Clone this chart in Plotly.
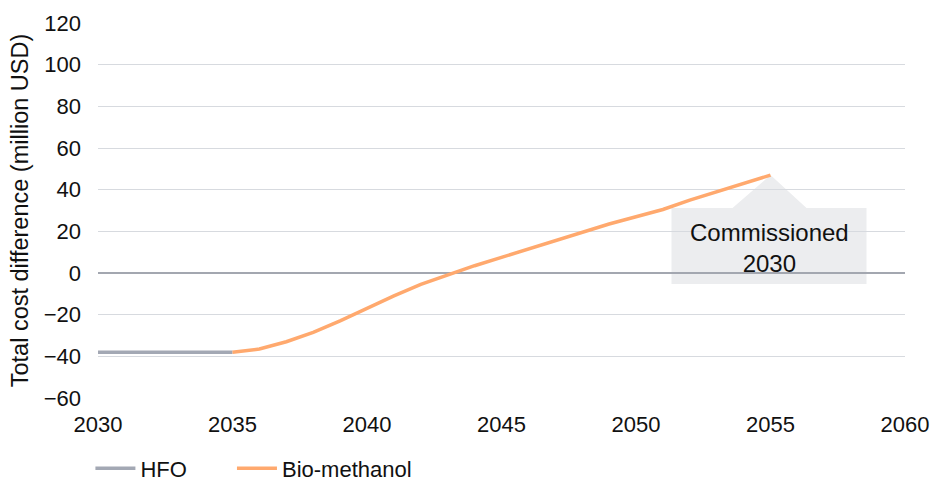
import plotly.graph_objects as go

# Yearly total cost difference versus baseline (million USD)
hfo_years = [2030, 2031, 2032, 2033, 2034, 2035]
hfo_values = [-38, -38, -38, -38, -38, -38]

bio_years = [2035, 2036, 2037, 2038, 2039, 2040, 2041, 2042, 2043, 2044, 2045,
             2046, 2047, 2048, 2049, 2050, 2051, 2052, 2053, 2054, 2055]
bio_values = [-38, -36.5, -33, -28.5, -23, -17, -11, -5.5, -1, 3.5, 7.5,
              11.5, 15.5, 19.5, 23.5, 27, 30.5, 35, 39, 43, 47]

x_ticks = [2030, 2035, 2040, 2045, 2050, 2055, 2060]
y_ticks = [-60, -40, -20, 0, 20, 40, 60, 80, 100, 120]

callout_text = "Commissioned<br>2030"

FONT = "Liberation Sans, Arial, Helvetica, sans-serif"
GRID = "#D7DADF"
HFO_COLOR = "#A3A8B4"
BIO_COLOR = "#FFA96E"
TEXT = "#111111"

fig = go.Figure()
fig.add_trace(go.Scatter(x=hfo_years, y=hfo_values, mode="lines", name="HFO",
                         line=dict(color=HFO_COLOR, width=3.5), legend="legend"))
fig.add_trace(go.Scatter(x=bio_years, y=bio_values, mode="lines", name="Bio-methanol",
                         line=dict(color=BIO_COLOR, width=3.5), legend="legend2"))

# Callout box with a pointer anchored at the last point of the series
end_x, end_y = bio_years[-1], bio_values[-1]
fig.add_shape(type="path", xref="x", yref="y", xsizemode="pixel", ysizemode="pixel",
              xanchor=end_x, yanchor=end_y,
              path="M 0,0 L 36,-33 L 96,-33 L 96,-109 L -99,-109 L -99,-33 L -38,-33 Z",
              fillcolor="#ECEDEF", line=dict(width=0), layer="below")
fig.add_annotation(x=end_x, y=end_y, xref="x", yref="y", text=callout_text,
                   showarrow=False, xshift=-1, yshift=-73,
                   font=dict(family=FONT, size=24, color=TEXT), align="center")

legend_style = dict(orientation="h", y=-0.132, xanchor="left", yanchor="top",
                    font=dict(family=FONT, size=22, color=TEXT), itemwidth=40,
                    bgcolor="rgba(0,0,0,0)")

fig.update_layout(
    width=932, height=482,
    margin=dict(l=98, r=27, t=23, b=84, autoexpand=False),
    paper_bgcolor="white", plot_bgcolor="white",
    font=dict(family=FONT, size=22, color=TEXT),
    showlegend=True,
    legend=dict(x=-0.0094, **legend_style),
    legend2=dict(x=0.166, **legend_style),
)
fig.update_xaxes(range=[2030, 2060], tickvals=x_ticks, showgrid=False, zeroline=False,
                 showline=False, ticks="", ticklabelstandoff=11,
                 tickfont=dict(family=FONT, size=22, color=TEXT))
fig.update_yaxes(range=[-60, 120], tickvals=y_ticks, showgrid=True, gridcolor=GRID,
                 gridwidth=1.2, zeroline=True, zerolinecolor="#A3A7B0", zerolinewidth=2,
                 showline=False, ticks="", ticklabelstandoff=16,
                 tickfont=dict(family=FONT, size=22, color=TEXT),
                 title=dict(text="Total cost difference (million USD)",
                            font=dict(family=FONT, size=23.5, color=TEXT), standoff=8))

fig.write_html("out.html")
